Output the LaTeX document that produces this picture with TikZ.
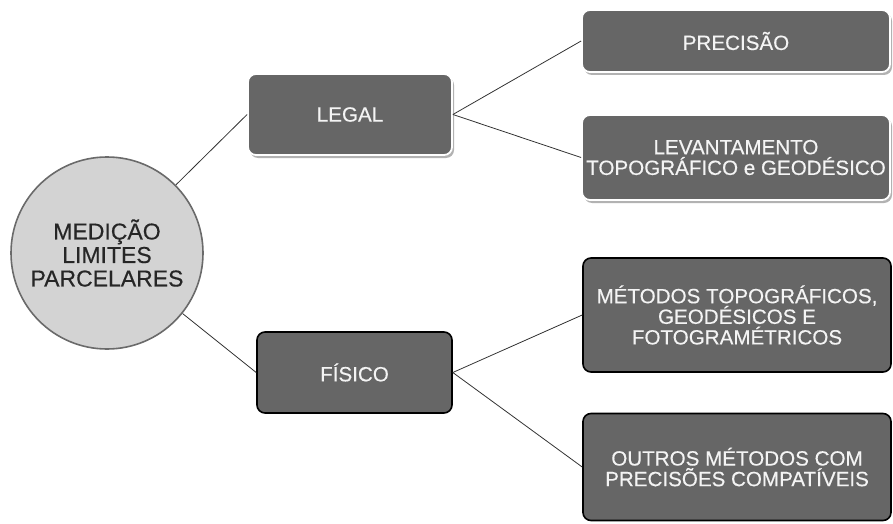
\documentclass[tikz,border=0pt]{standalone}
\usepackage{fontspec}
\setmainfont{Liberation Sans}
\newfontfamily\heavyarial[FakeBold=0.35]{Liberation Sans}
\usetikzlibrary{shadows}
\definecolor{boxgray}{HTML}{666666}
\definecolor{circfill}{HTML}{D3D3D3}
\definecolor{circline}{HTML}{6A6A6A}
\definecolor{boxtext}{HTML}{F4F4F4}
\tikzset{
  boxbase/.style={rectangle, rounded corners=8pt, fill=boxgray, text=boxtext,
    align=center, inner sep=0pt, font=\heavyarial\fontsize{20.6}{20.6}\selectfont},
  lightbox/.style={boxbase, draw=white, line width=1.8pt,
    drop shadow={shadow xshift=2pt, shadow yshift=-3pt, opacity=0.3, fill=black}},
  darkbox/.style={boxbase, draw=black, line width=1.6pt},
  hub/.style={circle, draw=circline, line width=1.6pt, fill=circfill,
    minimum size=192pt, inner sep=0pt, align=center, text=black!85,
    font=\heavyarial\fontsize{23}{23.5}\selectfont},
  link/.style={draw=black!80, line width=0.8pt}
}
\begin{document}
\begin{tikzpicture}[x=1pt, y=-1pt]
  \useasboundingbox (0,0) rectangle (893,524);

  % central circle
  \node[hub] (hub) at (107,253) {MEDIÇÃO\\LIMITES\\PARCELARES};

  % first level
  \node[lightbox, minimum width=204pt, minimum height=81pt] (legal) at (350,114.5) {LEGAL};
  \node[darkbox, minimum width=195pt, minimum height=81pt] (fisico) at (354.5,372.5) {FÍSICO};

  % second level, upper branch
  \node[lightbox, minimum width=308pt, minimum height=62pt] (prec) at (736,41) {PRECISÃO};
  \node[lightbox, minimum width=308pt, minimum height=85pt] (levt) at (736,157.5)
    {LEVANTAMENTO\\TOPOGRÁFICO e GEODÉSICO};

  % second level, lower branch
  \node[darkbox, minimum width=308pt, minimum height=114pt] (meto) at (737,315)
    {MÉTODOS TOPOGRÁFICOS,\\GEODÉSICOS E\\FOTOGRAMÉTRICOS};
  \node[darkbox, minimum width=308pt, minimum height=107pt] (outr) at (737,467)
    {OUTROS MÉTODOS COM\\PRECISÕES COMPATÍVEIS};

  % connectors
  \path[link] (hub) -- (legal.west);
  \path[link] (hub) -- (fisico.west);
  \path[link] (legal.east) -- (prec.west);
  \path[link] (legal.east) -- (levt.west);
  \path[link] (fisico.east) -- (meto.west);
  \path[link] (fisico.east) -- (outr.west);
\end{tikzpicture}
\end{document}
